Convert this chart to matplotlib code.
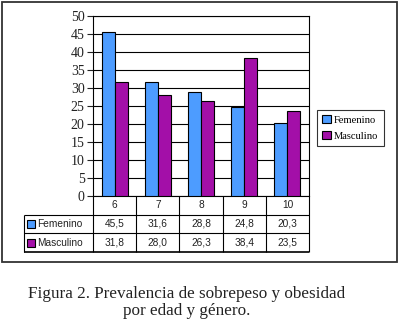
import matplotlib
matplotlib.use("Agg")
import matplotlib.pyplot as plt
import matplotlib.patches as mpatches
import numpy as np

ages = ["6", "7", "8", "9", "10"]
femenino = [45.5, 31.6, 28.8, 24.8, 20.3]
masculino = [31.8, 28.0, 26.3, 38.4, 23.5]
series_names = ["Femenino", "Masculino"]
colors = ["#4d9cff", "#a30fa8"]
caption = "Figura 2. Prevalencia de sobrepeso y obesidad\npor edad y género."

W, H = 400, 319


def px_box(x0, y0, x1, y1):
    r"""Convert a pixel box (top-left origin) to figure coords"""
    return [x0 / W, 1 - y1 / H, (x1 - x0) / W, (y1 - y0) / H]


fig = plt.figure(figsize=(W / 100, H / 100), dpi=100)

# outer frame around chart
fig.patches.append(mpatches.Rectangle((2 / W, 1 - 262 / H), 395 / W, 260 / H,
                                      transform=fig.transFigure, fill=False,
                                      edgecolor="#333333", lw=1.3))

# main bar chart
ax = fig.add_axes(px_box(93, 16, 309, 196))
x = np.arange(len(ages))
w = 0.3
data = [femenino, masculino]
offs = [-0.15, 0.15]
for vals, col, off, name in zip(data, colors, offs, series_names):
    ax.bar(x + off, vals, w, color=col, edgecolor="black", lw=0.8,
           label=name, zorder=3)
ax.set_xlim(-0.5, len(ages) - 0.5)
ax.set_ylim(0, 50)
ax.set_yticks(np.arange(0, 51, 5))
ax.set_yticklabels([str(v) for v in range(0, 51, 5)],
                   family="Liberation Serif", fontsize=10)
ax.tick_params(axis="y", length=4, width=0.8, pad=2, colors="#222222")
ax.set_xticks([])
ax.grid(axis="y", color="black", lw=0.8, zorder=0)
for s in ax.spines.values():
    s.set_color("black")
    s.set_linewidth(0.8)

# data table under chart
tax = fig.add_axes(px_box(24, 196, 309, 252))
tax.set_xlim(-2.1, len(ages) - 0.5)
tax.set_ylim(3, 0)
tax.axis("off")
lk = dict(color="black", lw=0.8, clip_on=False)
tax.hlines(1, -2.1, len(ages) - 0.5, **lk)
tax.hlines(2, -2.1, len(ages) - 0.5, **lk)
tax.hlines(3, -2.1, len(ages) - 0.5, lw=1.2, color="black", clip_on=False)
tax.vlines(np.arange(len(ages) + 1) - 0.5, 0, 3, **lk)
tax.vlines(-2.1, 1, 3, **lk)
tf = dict(family="Liberation Sans", fontsize=7.3, ha="center", va="center",
          color="#222222")
for i, a in enumerate(ages):
    tax.text(i, 0.5, a, **tf)
for r, (vals, col, name) in enumerate(zip(data, colors, series_names)):
    for i, v in enumerate(vals):
        tax.text(i, 1.5 + r, ("%.1f" % v).replace(".", ","), **tf)
    tax.plot(-1.93, 1.5 + r, marker="s", ms=6, mfc=col, mec="black",
             mew=0.8, clip_on=False)
    tax.text(-1.8, 1.5 + r, name, family="Liberation Sans", fontsize=7.3,
             ha="left", va="center", color="#222222")

# legend on the right
leg = fig.legend(loc="upper left", bbox_to_anchor=(317 / W, 1 - 110 / H),
                 prop=dict(family="Liberation Serif", size=7.6),
                 handlelength=0.8, handleheight=0.8, handletextpad=0.3,
                 borderpad=0.5, labelspacing=0.6, borderaxespad=0,
                 fancybox=False, frameon=True)
leg.get_frame().set_edgecolor("black")
leg.get_frame().set_linewidth(0.8)

fig.text(187 / W, 1 - 302.5 / H, caption, family="Liberation Serif",
         fontsize=12.3, ha="center", va="center", linespacing=1.1,
         color="#222222")

fig.savefig("out.png", dpi=100)
